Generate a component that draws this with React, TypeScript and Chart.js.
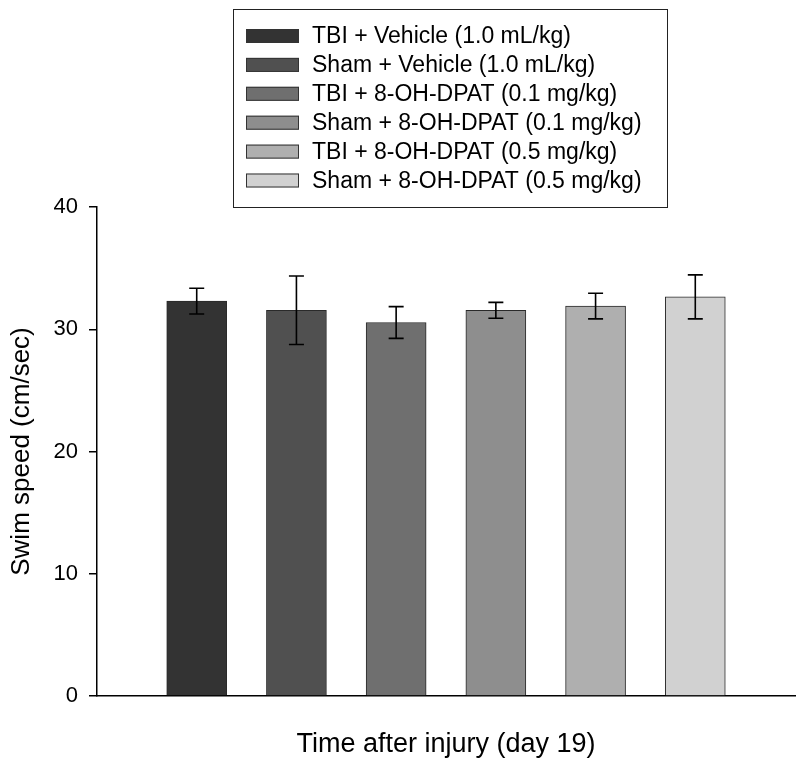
import React, { useEffect, useRef } from "react";
import { Chart, registerables } from "chart.js";

Chart.register(...registerables);

const groupLabels = [
  "TBI + Vehicle (1.0 mL/kg)",
  "Sham + Vehicle (1.0 mL/kg)",
  "TBI + 8-OH-DPAT (0.1 mg/kg)",
  "Sham + 8-OH-DPAT (0.1 mg/kg)",
  "TBI + 8-OH-DPAT (0.5 mg/kg)",
  "Sham + 8-OH-DPAT (0.5 mg/kg)",
];
const positions = [1, 2, 3, 4, 5, 6];
const meanSpeed = [32.3, 31.55, 30.55, 31.55, 31.9, 32.65];
const semSpeed = [1.05, 2.8, 1.3, 0.65, 1.05, 1.8];
const barColors = ["#333333", "#505050", "#6f6f6f", "#8e8e8e", "#afafaf", "#d1d1d1"];
const yTicks = [0, 10, 20, 30, 40];

const FONT = "Arial, 'Liberation Sans', Helvetica, sans-serif";

const errorBarPlugin = {
  id: "errorBars",
  afterDatasetsDraw(chart: any) {
    const ctx = chart.ctx;
    const xs = chart.scales.x;
    const ys = chart.scales.y;
    ctx.save();
    ctx.strokeStyle = "#000";
    ctx.lineWidth = 1.6;
    chart.data.datasets.forEach((ds: any) => {
      const pt = ds.data[0];
      const err = ds.err;
      const px = xs.getPixelForValue(pt.x);
      const top = ys.getPixelForValue(pt.y + err);
      const bot = ys.getPixelForValue(pt.y - err);
      const cap = 7.5;
      ctx.beginPath();
      ctx.moveTo(px, top);
      ctx.lineTo(px, bot);
      ctx.moveTo(px - cap, top);
      ctx.lineTo(px + cap, top);
      ctx.moveTo(px - cap, bot);
      ctx.lineTo(px + cap, bot);
      ctx.stroke();
    });
    ctx.restore();
  },
};

const boxLegendPlugin = {
  id: "boxLegend",
  afterDraw(chart: any) {
    const ctx = chart.ctx;
    const left = 233.5;
    const right = 667.5;
    const top = 9.5;
    const bottom = 207.5;
    ctx.save();
    ctx.fillStyle = "#fff";
    ctx.fillRect(left, top, right - left, bottom - top);
    ctx.strokeStyle = "#222";
    ctx.lineWidth = 1;
    ctx.strokeRect(left, top, right - left, bottom - top);
    ctx.font = `23px ${FONT}`;
    ctx.textBaseline = "middle";
    ctx.textAlign = "left";
    chart.data.datasets.forEach((ds: any, i: number) => {
      const cy = 36 + i * 28.9;
      ctx.fillStyle = ds.backgroundColor;
      ctx.fillRect(246, cy - 7, 53, 14);
      ctx.strokeStyle = "#333";
      ctx.lineWidth = 1;
      ctx.strokeRect(246.5, cy - 6.5, 52, 13);
      ctx.fillStyle = "#000";
      ctx.fillText(ds.label, 312, cy + 1);
    });
    ctx.restore();
  },
};

export default function App() {
  const canvasRef = useRef<HTMLCanvasElement | null>(null);

  useEffect(() => {
    document.body.style.margin = "0";
    const canvas = canvasRef.current!;
    const chart = new Chart(canvas, {
      type: "bar",
      data: {
        datasets: groupLabels.map((label, i) => ({
          label,
          data: [{ x: positions[i], y: meanSpeed[i] }],
          err: semSpeed[i],
          backgroundColor: barColors[i],
          borderColor: "#2a2a2a",
          borderWidth: 1,
          barThickness: 60,
          grouped: false,
        })) as any,
      },
      options: {
        responsive: false,
        animation: false,
        layout: { padding: { top: 207, right: 5, left: 0, bottom: 0 } },
        plugins: {
          legend: { display: false },
          tooltip: { enabled: false },
        },
        scales: {
          x: {
            type: "linear",
            min: 0,
            max: 7,
            offset: false,
            grid: { display: false },
            border: { display: true, color: "#000", width: 1.5 },
            ticks: { display: false },
            title: {
              display: true,
              text: "Time after injury (day 19)",
              color: "#000",
              font: { family: FONT, size: 27 },
              padding: { top: 0, bottom: 8 },
            },
            afterFit: (s: any) => {
              s.height = 73;
            },
          },
          y: {
            min: 0,
            max: 40,
            afterBuildTicks: (s: any) => {
              s.ticks = yTicks.map((v) => ({ value: v }));
            },
            grid: {
              drawOnChartArea: false,
              drawTicks: true,
              tickLength: 8,
              color: "#000",
              lineWidth: 1.5,
            },
            border: { display: true, color: "#000", width: 1.5 },
            ticks: {
              color: "#000",
              padding: 11,
              font: { family: FONT, size: 22 },
            },
            title: {
              display: true,
              text: "Swim speed (cm/sec)",
              color: "#000",
              font: { family: FONT, size: 26 },
              padding: { top: 6, bottom: 0 },
            },
            afterFit: (s: any) => {
              s.width = 97;
            },
          },
        },
      } as any,
      plugins: [errorBarPlugin, boxLegendPlugin],
    });
    return () => chart.destroy();
  }, []);

  return (
    <div style={{ width: 800, height: 769 }}>
      <canvas ref={canvasRef} width={800} height={769} />
    </div>
  );
}
